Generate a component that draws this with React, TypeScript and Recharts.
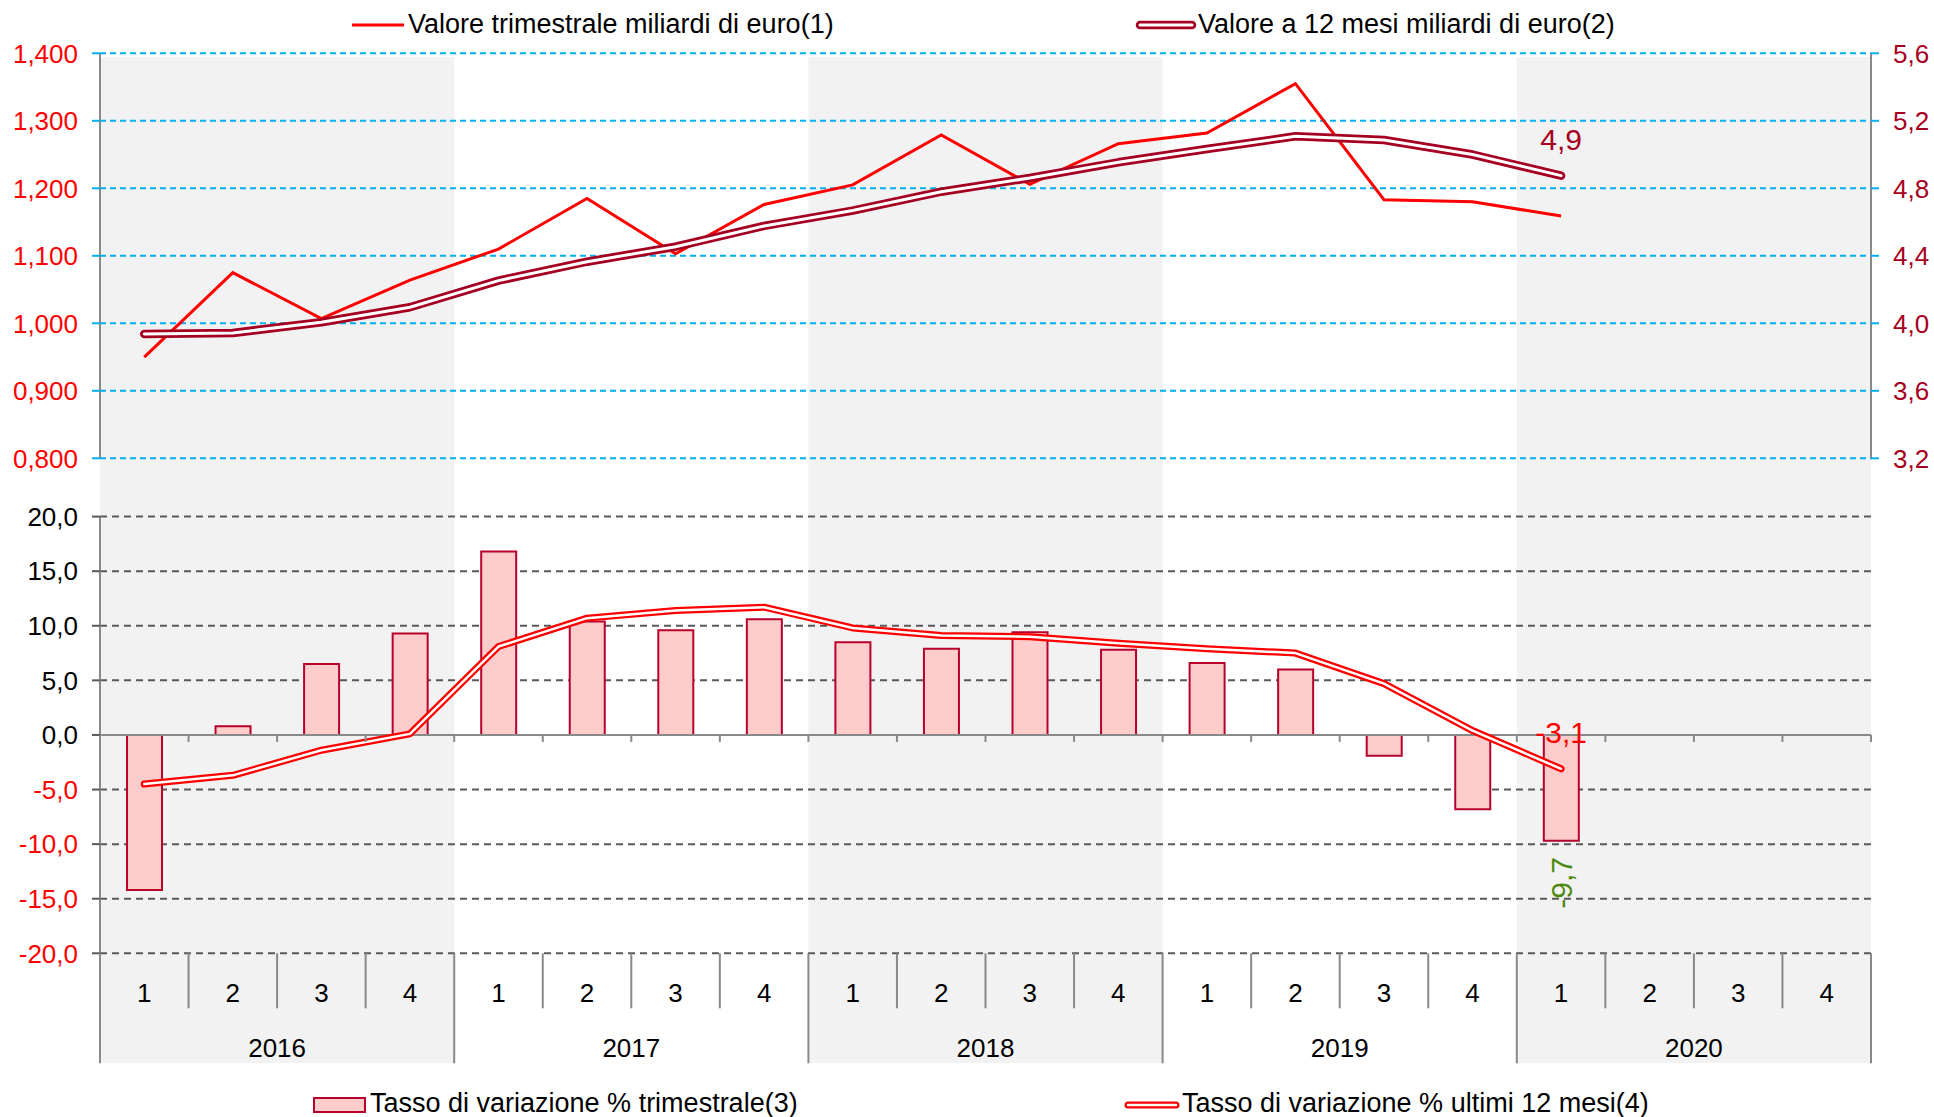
import {
    ComposedChart,
    Line,
    Bar,
    XAxis,
    YAxis,
    CartesianGrid,
    ReferenceArea,
    ReferenceLine,
    LabelList,
} from "recharts";

const years = ["2016", "2017", "2018", "2019", "2020"];
const quarterNums = ["1", "2", "3", "4"];
const shadedYears = ["2016", "2018", "2020"];

// miliardi di euro, quarterly value (left axis)
const valoreTrimestrale = [
    0.95, 1.075, 1.007, 1.064, 1.11, 1.185, 1.103, 1.176, 1.205, 1.279, 1.206,
    1.266, 1.282, 1.355, 1.183, 1.18, 1.159, null, null, null,
];
// miliardi di euro, last 12 months (right axis)
const valore12Mesi = [
    3.937, 3.943, 4.006, 4.095, 4.253, 4.365, 4.454, 4.577, 4.668, 4.78, 4.861,
    4.954, 5.033, 5.108, 5.086, 5.0, 4.875, null, null, null,
];
const tassoTrimestrale = [
    -14.2, 0.8, 6.5, 9.3, 16.8, 10.4, 9.6, 10.6, 8.5, 7.9, 9.4, 7.8, 6.6, 6.0,
    -1.9, -6.8, -9.7, null, null, null,
];
const tasso12Mesi = [
    -4.5, -3.7, -1.4, 0.1, 8.1, 10.7, 11.4, 11.7, 9.8, 9.1, 9.0, 8.4, 7.9, 7.5,
    4.7, 0.4, -3.1, null, null, null,
];

const leftTicks = [0.8, 0.9, 1.0, 1.1, 1.2, 1.3, 1.4];
const rightTicks = [3.2, 3.6, 4.0, 4.4, 4.8, 5.2, 5.6];
const pctTicks = [-20, -15, -10, -5, 0, 5, 10, 15, 20];

const data = years.flatMap((year, yi) =>
    quarterNums.map((q, qi) => {
        const i = yi * quarterNums.length + qi;
        return {
            key: `${year}-${q}`,
            trim: valoreTrimestrale[i],
            m12: valore12Mesi[i],
            pctQ: tassoTrimestrale[i],
            pct12: tasso12Mesi[i],
        };
    })
);
const lastIdx = valoreTrimestrale.reduce<number>((acc, v, i) => (v != null ? i : acc), -1);

const W = 1934;
const H = 1117;
const AXIS_L = 100;
const AXIS_R = 63;
const BAND = (W - AXIS_L - AXIS_R) / data.length;
const BOTTOM_PLOT_H = 436.7;

const FONT = "'Liberation Sans', Arial, sans-serif";
const RED = "#FF0000";
const MAROON = "#A50021";
const BLUE = "#00B0F0";
const AXIS = "#898989";
const GRID = "#595959";
const SHADE = "#F2F2F2";
const BAR_FILL = "#FFCCCC";
const BAR_STROKE = "#B8002C";
const GREEN = "#4E8A12";

const fmt1 = (v: number) => v.toFixed(1).replace(".", ",");
const fmt3 = (v: number) => v.toFixed(3).replace(".", ",");

function CategoryTick(props: any) {
    const { x, y, payload, index } = props;
    const [year, q] = String(payload.value).split("-");
    const half = BAND / 2;
    const zeroY = y - BOTTOM_PLOT_H / 2;
    return (
        <g>
            <text x={x} y={y + 39} dy="0.355em" textAnchor="middle" fontSize={26} fill="#000">
                {q}
            </text>
            <line
                x1={x - half}
                x2={x - half}
                y1={y}
                y2={y + (q === "1" ? 110 : 55)}
                stroke={AXIS}
                strokeWidth={2}
            />
            {index === data.length - 1 && (
                <line x1={x + half} x2={x + half} y1={y} y2={y + 110} stroke={AXIS} strokeWidth={2} />
            )}
            {q === "2" && (
                <text x={x + half} y={y + 94} dy="0.355em" textAnchor="middle" fontSize={26} fill="#000">
                    {year}
                </text>
            )}
            <line x1={x + half} x2={x + half} y1={zeroY} y2={zeroY + 7} stroke={AXIS} strokeWidth={2} />
        </g>
    );
}

function PctTick(props: any) {
    const { x, y, payload } = props;
    const v = Number(payload.value);
    return (
        <text x={x} y={y} dy="0.355em" textAnchor="end" fontSize={26} fill={v < 0 ? RED : "#000"}>
            {fmt1(v)}
        </text>
    );
}

const lastPointLabel = (color: string) => (props: any) => {
    const { index, value } = props;
    if (index !== lastIdx || value == null) return null;
    const vb = props.viewBox ?? props;
    return (
        <text x={vb.x} y={vb.y - 26} textAnchor="middle" fontSize={30} fill={color}>
            {fmt1(Number(value))}
        </text>
    );
};

const lastBarLabel = (props: any) => {
    const { index, value } = props;
    if (index !== lastIdx || value == null) return null;
    const vb = props.viewBox ?? props;
    const cx = vb.x + (vb.width ?? 0) / 2;
    const bottom = Math.max(vb.y, vb.y + (vb.height ?? 0));
    const cy = bottom + 42;
    return (
        <text
            x={cx}
            y={cy}
            transform={`rotate(-90 ${cx} ${cy})`}
            textAnchor="middle"
            dominantBaseline="central"
            fontSize={30}
            fill={GREEN}
        >
            {fmt1(Number(value))}
        </text>
    );
};

export default function App() {
    return (
        <div
            style={{
                position: "absolute",
                left: 0,
                top: 0,
                width: W,
                height: H,
                background: "#fff",
                fontFamily: FONT,
                overflow: "hidden",
            }}
        >
            {/* year shading behind both panels */}
            <div style={{ position: "absolute", left: 0, top: 0 }}>
                <ComposedChart
                    width={W}
                    height={H}
                    data={data}
                    margin={{ top: 57, right: AXIS_R, bottom: 54, left: AXIS_L }}
                >
                    <XAxis dataKey="key" type="category" scale="band" hide />
                    <YAxis type="number" hide domain={[0, 1]} allowDataOverflow />
                    {shadedYears.map((y) => (
                        <ReferenceArea
                            key={y}
                            x1={`${y}-1`}
                            x2={`${y}-4`}
                            y1={0}
                            y2={1}
                            fill={SHADE}
                            fillOpacity={1}
                            stroke="none"
                            ifOverflow="visible"
                        />
                    ))}
                </ComposedChart>
            </div>

            {/* bottom panel: variation rates */}
            <div style={{ position: "absolute", left: 0, top: 480 }}>
                <ComposedChart
                    width={W}
                    height={600}
                    data={data}
                    barSize={35}
                    margin={{ top: 36.6, right: AXIS_R, bottom: 16.7, left: 0 }}
                >
                    <CartesianGrid vertical={false} stroke={GRID} strokeWidth={2} strokeDasharray="7 5" />
                    <XAxis
                        dataKey="key"
                        scale="band"
                        height={110}
                        axisLine={false}
                        tickLine={false}
                        tickSize={0}
                        tickMargin={0}
                        interval={0}
                        tick={(p: any) => <CategoryTick {...p} />}
                    />
                    <YAxis
                        width={AXIS_L}
                        domain={[-20, 20]}
                        ticks={pctTicks}
                        interval={0}
                        tickSize={8}
                        tickMargin={14}
                        tickLine={{ stroke: GRID, strokeWidth: 2 }}
                        axisLine={{ stroke: AXIS, strokeWidth: 2 }}
                        tick={(p: any) => <PctTick {...p} />}
                    />
                    <ReferenceLine y={0} stroke={AXIS} strokeWidth={2} />
                    <Bar
                        dataKey="pctQ"
                        fill={BAR_FILL}
                        stroke={BAR_STROKE}
                        strokeWidth={2}
                        isAnimationActive={false}
                    >
                        <LabelList dataKey="pctQ" content={lastBarLabel} />
                    </Bar>
                    <Line
                        dataKey="pct12"
                        stroke={RED}
                        strokeWidth={7}
                        strokeLinecap="round"
                        strokeLinejoin="round"
                        dot={false}
                        isAnimationActive={false}
                    />
                    <Line
                        dataKey="pct12"
                        stroke="#fff"
                        strokeWidth={2.5}
                        strokeLinecap="round"
                        strokeLinejoin="round"
                        dot={false}
                        isAnimationActive={false}
                    >
                        <LabelList dataKey="pct12" content={lastPointLabel(RED)} />
                    </Line>
                </ComposedChart>
            </div>

            {/* top panel: values */}
            <div style={{ position: "absolute", left: 0, top: 0 }}>
                <ComposedChart
                    width={W}
                    height={480}
                    data={data}
                    margin={{ top: 53.3, right: 0, bottom: 21.7, left: 0 }}
                >
                    <CartesianGrid
                        yAxisId="left"
                        vertical={false}
                        stroke={BLUE}
                        strokeWidth={2}
                        strokeDasharray="6 4"
                    />
                    <XAxis dataKey="key" scale="band" hide />
                    <YAxis
                        yAxisId="left"
                        width={AXIS_L}
                        domain={[0.8, 1.4]}
                        ticks={leftTicks}
                        interval={0}
                        tickSize={8}
                        tickMargin={14}
                        tickFormatter={fmt3}
                        tick={{ fill: RED, fontSize: 26 }}
                        tickLine={{ stroke: BLUE, strokeWidth: 2 }}
                        axisLine={{ stroke: AXIS, strokeWidth: 2 }}
                    />
                    <YAxis
                        yAxisId="right"
                        orientation="right"
                        width={AXIS_R}
                        domain={[3.2, 5.6]}
                        ticks={rightTicks}
                        interval={0}
                        tickSize={8}
                        tickMargin={14}
                        tickFormatter={fmt1}
                        tick={{ fill: MAROON, fontSize: 26, textAnchor: "start" }}
                        tickLine={{ stroke: BLUE, strokeWidth: 2 }}
                        axisLine={{ stroke: AXIS, strokeWidth: 2 }}
                    />
                    <Line
                        yAxisId="left"
                        dataKey="trim"
                        stroke={RED}
                        strokeWidth={3}
                        dot={false}
                        isAnimationActive={false}
                    />
                    <Line
                        yAxisId="right"
                        dataKey="m12"
                        stroke={MAROON}
                        strokeWidth={8.5}
                        strokeLinecap="round"
                        strokeLinejoin="round"
                        dot={false}
                        isAnimationActive={false}
                    />
                    <Line
                        yAxisId="right"
                        dataKey="m12"
                        stroke="#fff"
                        strokeWidth={3}
                        strokeLinecap="round"
                        strokeLinejoin="round"
                        dot={false}
                        isAnimationActive={false}
                    >
                        <LabelList dataKey="m12" content={lastPointLabel(MAROON)} />
                    </Line>
                </ComposedChart>
            </div>

            {/* legends */}
            <svg
                width={W}
                height={H}
                style={{ position: "absolute", left: 0, top: 0, pointerEvents: "none" }}
                fontFamily={FONT}
                fontSize={27}
            >
                <line x1={352} x2={404} y1={25} y2={25} stroke={RED} strokeWidth={3} />
                <text x={408} y={33} fill="#000">
                    Valore trimestrale miliardi di euro(1)
                </text>

                <line x1={1140} x2={1192} y1={25} y2={25} stroke={MAROON} strokeWidth={8.5} strokeLinecap="round" />
                <line x1={1140} x2={1192} y1={25} y2={25} stroke="#fff" strokeWidth={3} strokeLinecap="round" />
                <text x={1198} y={33} fill="#000">
                    Valore a 12 mesi miliardi di euro(2)
                </text>

                <rect x={314} y={1098} width={51} height={14} fill={BAR_FILL} stroke={BAR_STROKE} strokeWidth={2} />
                <text x={370} y={1112} fill="#000">
                    Tasso di variazione % trimestrale(3)
                </text>

                <line x1={1128} x2={1176} y1={1105} y2={1105} stroke={RED} strokeWidth={7} strokeLinecap="round" />
                <line x1={1128} x2={1176} y1={1105} y2={1105} stroke="#fff" strokeWidth={2.5} strokeLinecap="round" />
                <text x={1182} y={1112} fill="#000">
                    Tasso di variazione % ultimi 12 mesi(4)
                </text>
            </svg>
        </div>
    );
}
